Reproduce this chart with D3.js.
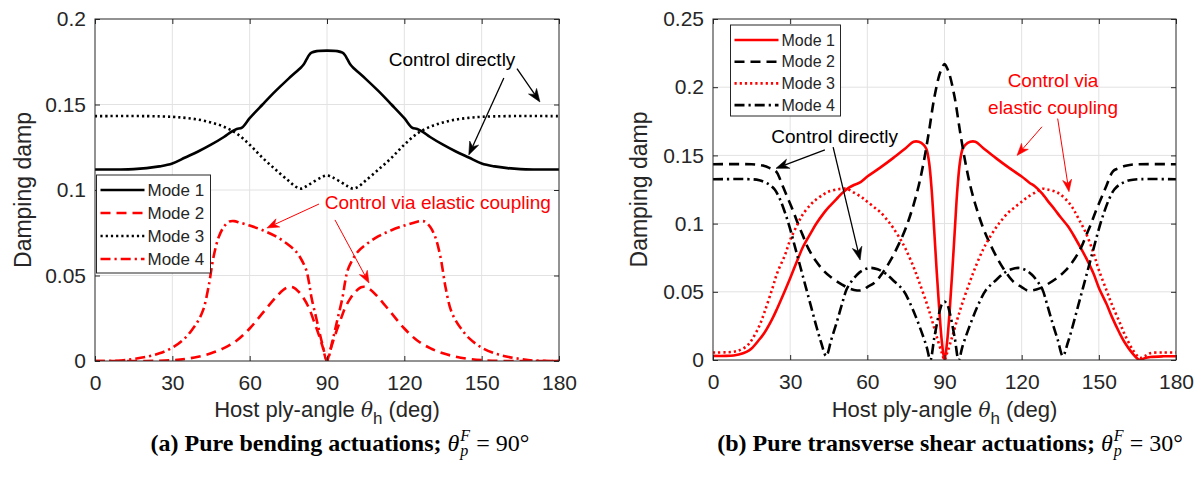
<!DOCTYPE html>
<html>
<head>
<meta charset="utf-8">
<script src="https://cdn.jsdelivr.net/npm/d3@7"></script>
<style>
  body { margin: 0; background: #fff; }
  svg text { font-family: "Liberation Sans", Arial, Helvetica, sans-serif; fill: #262626; }
</style>
</head>
<body>
<svg id="fig" width="1201" height="489"></svg>
<script>
// ---- data: [host ply-angle (deg), damping] ----
var angleTicks = [0, 30, 60, 90, 120, 150, 180];
var yTicksA = [0, 0.05, 0.1, 0.15, 0.2];
var yTicksB = [0, 0.05, 0.1, 0.15, 0.2, 0.25];
var modeNames = ['Mode 1', 'Mode 2', 'Mode 3', 'Mode 4'];

// (a) pure bending
var aMode1 = [[0,0.112],[10,0.112],[15,0.1122],[20,0.1128],[25,0.1138],[30,0.1155],[35,0.119],[40,0.1225],[45,0.1265],[50,0.131],[53,0.1342],[55,0.1357],[57,0.1365],[60,0.142],[65,0.15],[70,0.1578],[75,0.165],[80,0.1718],[81,0.1735],[82,0.1762],[83,0.1788],[84,0.1803],[86,0.1812],[90,0.1815],[94,0.1812],[96,0.1803],[97,0.1788],[98,0.1762],[99,0.1735],[100,0.1718],[105,0.165],[110,0.1578],[115,0.15],[120,0.142],[123,0.1365],[125,0.1357],[127,0.1342],[130,0.131],[135,0.1265],[140,0.1225],[145,0.119],[150,0.1155],[155,0.1138],[160,0.1128],[165,0.1122],[170,0.112],[180,0.112]];
var aMode2 = [[0,0],[20,0],[30,0.0005],[35,0.0012],[40,0.0025],[45,0.0045],[50,0.0075],[55,0.012],[60,0.019],[65,0.028],[70,0.037],[73,0.0415],[75,0.0433],[77,0.043],[79,0.0405],[81,0.0365],[83,0.031],[85,0.023],[87,0.0145],[89,0.005],[90,0],[91,0.005],[93,0.0145],[95,0.023],[97,0.031],[99,0.0365],[101,0.0405],[103,0.043],[105,0.0433],[107,0.0415],[110,0.037],[115,0.028],[120,0.019],[125,0.012],[130,0.0075],[135,0.0045],[140,0.0025],[145,0.0012],[150,0.0005],[160,0],[180,0]];
var aMode3 = [[0,0.1432],[20,0.1432],[30,0.1428],[35,0.1422],[40,0.1412],[45,0.1395],[50,0.137],[55,0.133],[60,0.1265],[65,0.1188],[70,0.112],[75,0.1055],[78,0.1018],[80,0.1008],[82,0.1022],[85,0.105],[88,0.1075],[90,0.1085],[92,0.1075],[95,0.105],[98,0.1022],[100,0.1008],[102,0.1018],[105,0.1055],[110,0.112],[115,0.1188],[120,0.1265],[125,0.133],[130,0.137],[135,0.1395],[140,0.1412],[145,0.1422],[150,0.1428],[160,0.1432],[180,0.1432]];
var aMode4 = [[0,0],[10,0.0003],[15,0.0012],[20,0.0025],[25,0.0045],[30,0.0078],[35,0.0135],[38,0.019],[40,0.0235],[42,0.03],[44,0.043],[46,0.061],[48,0.0725],[50,0.0785],[52,0.0815],[54,0.0818],[56,0.081],[60,0.0792],[65,0.0765],[70,0.073],[75,0.068],[78,0.064],[80,0.0595],[82,0.053],[83,0.046],[84,0.037],[86,0.024],[88,0.011],[90,0],[92,0.011],[94,0.024],[96,0.037],[97,0.046],[98,0.053],[100,0.0595],[102,0.064],[105,0.068],[110,0.073],[115,0.0765],[120,0.0792],[124,0.081],[126,0.0818],[128,0.0815],[130,0.0785],[132,0.0725],[134,0.061],[136,0.043],[138,0.03],[140,0.0235],[142,0.019],[145,0.0135],[150,0.0078],[155,0.0045],[160,0.0025],[165,0.0012],[170,0.0003],[180,0]];

// (b) pure transverse shear
var bMode1 = [[0,0.003],[5,0.003],[8,0.0033],[10,0.004],[13,0.006],[15,0.0085],[18,0.015],[20,0.02],[23,0.03],[25,0.038],[28,0.051],[30,0.06],[33,0.074],[35,0.083],[38,0.093],[40,0.0995],[43,0.1075],[45,0.112],[48,0.118],[50,0.122],[53,0.1265],[55,0.1285],[57,0.13],[60,0.1345],[65,0.141],[70,0.148],[75,0.1555],[78,0.16],[80,0.16],[82,0.1575],[83,0.1545],[84,0.145],[85,0.125],[86,0.095],[87,0.064],[88,0.036],[89,0.013],[90,0],[91,0.013],[92,0.036],[93,0.064],[94,0.095],[95,0.125],[96,0.145],[97,0.1545],[98,0.1575],[100,0.16],[102,0.16],[105,0.1555],[110,0.148],[115,0.141],[120,0.1345],[123,0.13],[125,0.1275],[128,0.122],[130,0.117],[133,0.11],[135,0.105],[138,0.098],[140,0.092],[143,0.082],[145,0.075],[148,0.063],[150,0.053],[153,0.041],[155,0.032],[158,0.02],[160,0.013],[163,0.005],[165,0.001],[166,0],[168,0.0015],[170,0.0022],[175,0.0027],[180,0.0028]];
var bMode2 = [[0,0.1435],[15,0.1435],[18,0.143],[20,0.1422],[22,0.1408],[24,0.1392],[25,0.137],[27,0.128],[29,0.119],[31,0.11],[33,0.1],[35,0.091],[37,0.082],[40,0.0725],[43,0.0655],[46,0.0605],[50,0.0555],[53,0.0525],[56,0.051],[58,0.0512],[60,0.0535],[63,0.057],[66,0.064],[69,0.073],[72,0.084],[75,0.097],[78,0.114],[80,0.128],[82,0.146],[84,0.168],[86,0.192],[88,0.209],[89,0.214],[90,0.217],[91,0.214],[92,0.209],[94,0.192],[96,0.168],[98,0.146],[100,0.128],[102,0.114],[105,0.097],[108,0.084],[111,0.073],[114,0.064],[117,0.057],[120,0.0535],[122,0.0512],[124,0.051],[127,0.0525],[130,0.0555],[134,0.0605],[137,0.0655],[140,0.0725],[143,0.082],[145,0.091],[147,0.1],[149,0.11],[151,0.119],[153,0.128],[155,0.137],[156,0.1392],[158,0.1408],[160,0.1422],[162,0.143],[165,0.1435],[180,0.1435]];
var bMode3 = [[0,0.0055],[8,0.006],[10,0.007],[13,0.01],[15,0.0145],[18,0.025],[20,0.035],[23,0.052],[25,0.064],[28,0.077],[30,0.088],[33,0.1],[35,0.107],[38,0.114],[40,0.1175],[43,0.1215],[45,0.1235],[48,0.125],[50,0.1255],[52,0.1255],[55,0.1225],[58,0.119],[60,0.116],[63,0.1115],[65,0.1085],[68,0.102],[70,0.097],[73,0.088],[75,0.081],[78,0.068],[80,0.058],[83,0.042],[85,0.03],[87,0.017],[89,0.005],[90,0],[91,0.005],[93,0.017],[95,0.03],[97,0.042],[100,0.058],[102,0.068],[105,0.081],[107,0.088],[110,0.097],[112,0.102],[115,0.1085],[117,0.1115],[120,0.116],[122,0.119],[125,0.1225],[128,0.1255],[130,0.125],[133,0.1235],[135,0.1215],[138,0.116],[140,0.111],[142,0.104],[145,0.093],[148,0.078],[150,0.066],[153,0.051],[155,0.041],[158,0.028],[160,0.019],[163,0.008],[165,0.003],[166,0.0015],[168,0.003],[170,0.005],[175,0.0055],[180,0.0055]];
var bMode4 = [[0,0.1325],[15,0.1325],[18,0.1318],[20,0.1305],[22,0.1285],[24,0.125],[26,0.118],[28,0.108],[30,0.096],[32,0.082],[34,0.068],[36,0.054],[38,0.04],[40,0.026],[42,0.013],[44,0.003],[46,0.015],[48,0.027],[50,0.04],[52,0.052],[54,0.058],[56,0.0625],[58,0.0655],[61,0.0675],[64,0.0665],[67,0.0635],[70,0.0585],[74,0.051],[77,0.04],[79,0.031],[81,0.021],[83,0.01],[84.5,0],[86,0.016],[88,0.035],[89,0.041],[90,0.0428],[91,0.041],[92,0.035],[94,0.016],[95.5,0],[97,0.01],[99,0.021],[101,0.031],[103,0.04],[106,0.051],[110,0.0585],[113,0.0635],[116,0.0665],[119,0.0675],[122,0.0655],[124,0.0625],[126,0.058],[128,0.052],[130,0.04],[132,0.027],[134,0.015],[136,0.003],[138,0.013],[140,0.026],[142,0.04],[144,0.054],[146,0.068],[148,0.082],[150,0.096],[152,0.108],[154,0.118],[156,0.125],[158,0.1285],[160,0.1305],[162,0.1318],[165,0.1325],[180,0.1325]];

// annotations in data units: text anchor and arrows [from, to]
var notesA = [
  {lines: ['Control directly'], at: [138.5, 0.1725], red: false,
   arrows: [[[158.6, 0.1655], [145, 0.1205]], [[163.7, 0.171], [172.6, 0.1515]]]},
  {lines: ['Control via elastic coupling'], at: [133, 0.0889], red: true,
   arrows: [[[86.9, 0.0918], [66.7, 0.0778]], [[93.1, 0.0825], [106.3, 0.0456]]]}
];
var notesB = [
  {lines: ['Control directly'], at: [47.3, 0.159], red: false,
   arrows: [[[43.5, 0.154], [24.5, 0.1405]], [[46.7, 0.156], [57.2, 0.0733]]]},
  {lines: ['Control via', 'elastic coupling'], at: [132.2, 0.2], red: true,
   arrows: [[[127.9, 0.171], [118.2, 0.150]], [[134, 0.177], [138.4, 0.1234]]]}
];

var RED = '#ff0000', BLACK = '#000000';
var styles = {
  solid: null,
  dash: '10,6',
  dot: '2.2,3',
  dashdot: '10,4,2.2,4'
};

var svg = d3.select('#fig');

function arrow(g, x1, y1, x2, y2, color, lw, hl) {
  var dx = x2 - x1, dy = y2 - y1, L = Math.sqrt(dx * dx + dy * dy);
  var ux = dx / L, uy = dy / L;
  var hw = hl * 0.75;
  var bx = x2 - ux * hl, by = y2 - uy * hl;
  var nx = x2 - ux * hl * 0.7, ny = y2 - uy * hl * 0.7;
  g.append('line').attr('x1', x1).attr('y1', y1).attr('x2', nx).attr('y2', ny)
    .attr('stroke', color).attr('stroke-width', lw);
  g.append('path')
    .attr('d', 'M' + x2 + ',' + y2 + 'L' + (bx - uy * hw / 2) + ',' + (by + ux * hw / 2) +
      'L' + nx + ',' + ny + 'L' + (bx + uy * hw / 2) + ',' + (by - ux * hw / 2) + 'Z')
    .attr('fill', color).attr('stroke', color).attr('stroke-width', 0.6);
}

function drawPanel(p) {
  var x = d3.scaleLinear().domain([0, 180]).range([p.left, p.right]);
  var y = d3.scaleLinear().domain([0, p.ymax]).range([p.bottom, p.top]).clamp(true);
  var g = svg.append('g');
  var w = p.right - p.left, h = p.bottom - p.top;

  g.append('rect').attr('x', p.left).attr('y', p.top).attr('width', w).attr('height', h).attr('fill', '#fff');

  // grid
  g.selectAll('.gx').data(angleTicks.slice(1, -1)).enter().append('line')
    .attr('x1', function(d) { return x(d); }).attr('x2', function(d) { return x(d); })
    .attr('y1', p.top).attr('y2', p.bottom).attr('stroke', '#e2e2e2').attr('stroke-width', 1);
  g.selectAll('.gy').data(p.yticks.slice(1, -1)).enter().append('line')
    .attr('y1', function(d) { return y(d); }).attr('y2', function(d) { return y(d); })
    .attr('x1', p.left).attr('x2', p.right).attr('stroke', '#e2e2e2').attr('stroke-width', 1);

  // curves
  var clipId = 'clip' + p.id;
  svg.append('clipPath').attr('id', clipId).append('rect')
    .attr('x', p.left).attr('y', p.top - 2).attr('width', w).attr('height', h + 2);
  var line = d3.line()
    .x(function(d) { return x(d[0]); })
    .y(function(d) { return y(d[1]); })
    .curve(d3.curveCatmullRom.alpha(0.5));
  var cg = g.append('g').attr('clip-path', 'url(#' + clipId + ')');
  p.series.forEach(function(s) {
    cg.append('path').datum(s.data).attr('d', line)
      .attr('fill', 'none').attr('stroke', s.color).attr('stroke-width', 2.6)
      .attr('stroke-dasharray', styles[s.style]).attr('stroke-linejoin', 'round');
  });

  // axes, ticks inward on all four sides
  var fs = '21px';
  g.append('g').attr('transform', 'translate(0,' + p.bottom + ')')
    .call(d3.axisBottom(x).tickValues(angleTicks).tickSize(-5).tickSizeOuter(0).tickPadding(14));
  g.append('g').attr('transform', 'translate(0,' + p.top + ')')
    .call(d3.axisTop(x).tickValues(angleTicks).tickSize(-5).tickSizeOuter(0).tickFormat(''));
  g.append('g').attr('transform', 'translate(' + p.left + ',0)')
    .call(d3.axisLeft(y).tickValues(p.yticks).tickSize(-5).tickSizeOuter(0).tickPadding(9)
      .tickFormat(function(d) { return String(d); }));
  g.append('g').attr('transform', 'translate(' + p.right + ',0)')
    .call(d3.axisRight(y).tickValues(p.yticks).tickSize(-5).tickSizeOuter(0).tickFormat(''));
  g.selectAll('.domain').remove();
  g.selectAll('.tick line').attr('stroke', '#262626');
  g.selectAll('.tick text').style('font-size', fs).attr('fill', '#262626');
  g.append('rect').attr('x', p.left).attr('y', p.top).attr('width', w).attr('height', h)
    .attr('fill', 'none').attr('stroke', '#262626').attr('stroke-width', 1);

  // axis titles
  g.append('text').attr('transform', 'translate(' + p.ylabX + ',' + ((p.top + p.bottom) / 2) + ') rotate(-90)')
    .attr('text-anchor', 'middle').style('font-size', '23px').text('Damping damp');
  var xt = g.append('text')
    .attr('x', (p.left + p.right) / 2).attr('y', 417)
    .attr('text-anchor', 'middle').style('font-size', '22px');
  xt.append('tspan').text('Host ply-angle ');
  xt.append('tspan').style('font-style', 'italic').style('font-family', '"DejaVu Serif", serif').style('font-size', '20px').text('θ');
  xt.append('tspan').attr('dy', 7).style('font-size', '17px').text('h');
  xt.append('tspan').attr('dy', -7).text(' (deg)');

  // annotations
  p.notes.forEach(function(n) {
    var col = n.red ? RED : BLACK;
    n.lines.forEach(function(t, i) {
      g.append('text').attr('x', x(n.at[0])).attr('y', y(n.at[1]) + i * 27)
        .attr('text-anchor', 'middle').style('font-size', '19px').style('fill', col).text(t);
    });
    n.arrows.forEach(function(a) {
      arrow(g, x(a[0][0]), y(a[0][1]), x(a[1][0]), y(a[1][1]), col, n.red ? 1 : 1.3, n.red ? 12 : 13);
    });
  });

  // legend
  var L = p.legend;
  var lg = g.append('g').attr('transform', 'translate(' + L.x + ',' + L.y + ')');
  lg.append('rect').attr('width', L.w).attr('height', L.h).attr('fill', '#fff')
    .attr('stroke', '#262626').attr('stroke-width', 1);
  p.series.forEach(function(s, i) {
    var yy = L.row0 + i * L.dy;
    lg.append('line').attr('x1', 4).attr('x2', 48).attr('y1', yy).attr('y2', yy)
      .attr('stroke', s.color).attr('stroke-width', 2.6).attr('stroke-dasharray', styles[s.style]);
    lg.append('text').attr('x', 51).attr('y', yy).attr('dy', '0.36em')
      .style('font-size', L.fs).text(modeNames[i]);
  });
}

drawPanel({
  id: 'a', left: 95, right: 559, top: 19, bottom: 361, ymax: 0.2, yticks: yTicksA, ylabX: 31,
  series: [
    {data: aMode1, color: BLACK, style: 'solid'},
    {data: aMode2, color: RED, style: 'dash'},
    {data: aMode3, color: BLACK, style: 'dot'},
    {data: aMode4, color: RED, style: 'dashdot'}
  ],
  notes: notesA,
  legend: {x: 96.5, y: 175, w: 114, h: 98, row0: 15, dy: 23, fs: '17px'}
});
drawPanel({
  id: 'b', left: 713, right: 1176, top: 19, bottom: 360, ymax: 0.25, yticks: yTicksB, ylabX: 647,
  series: [
    {data: bMode1, color: RED, style: 'solid'},
    {data: bMode2, color: BLACK, style: 'dash'},
    {data: bMode3, color: RED, style: 'dot'},
    {data: bMode4, color: BLACK, style: 'dashdot'}
  ],
  notes: notesB,
  legend: {x: 730.5, y: 25, w: 110, h: 91, row0: 15, dy: 21.7, fs: '16px'}
});

// sub-figure captions
function caption(cx, baseY, lead, val) {
  var g = svg.append('g');
  var serif = '"Liberation Serif", "Times New Roman", serif';
  var t = g.append('text').attr('x', 0).attr('y', baseY).style('font-family', serif).style('font-size', '24px').style('fill', '#000');
  t.append('tspan').style('font-weight', 'bold').text(lead);
  t.append('tspan').style('font-style', 'italic').text('θ');
  var w = t.node().getComputedTextLength();
  g.append('text').attr('x', w + 1).attr('y', baseY - 10).style('font-family', serif).style('font-style', 'italic')
    .style('font-size', '16px').style('fill', '#000').text('F');
  g.append('text').attr('x', w + 1).attr('y', baseY + 5).style('font-family', serif).style('font-style', 'italic')
    .style('font-size', '16px').style('fill', '#000').text('p');
  var t2 = g.append('text').attr('x', w + 17).attr('y', baseY).style('font-family', serif)
    .style('font-size', '24px').style('fill', '#000').text('= ' + val);
  var total = w + 17 + t2.node().getComputedTextLength();
  g.attr('transform', 'translate(' + (cx - total / 2) + ',0)');
}
caption(340, 451, '(a) Pure bending actuations; ', '90°');
caption(950, 451, '(b) Pure transverse shear actuations; ', '30°');
</script>
</body>
</html>
